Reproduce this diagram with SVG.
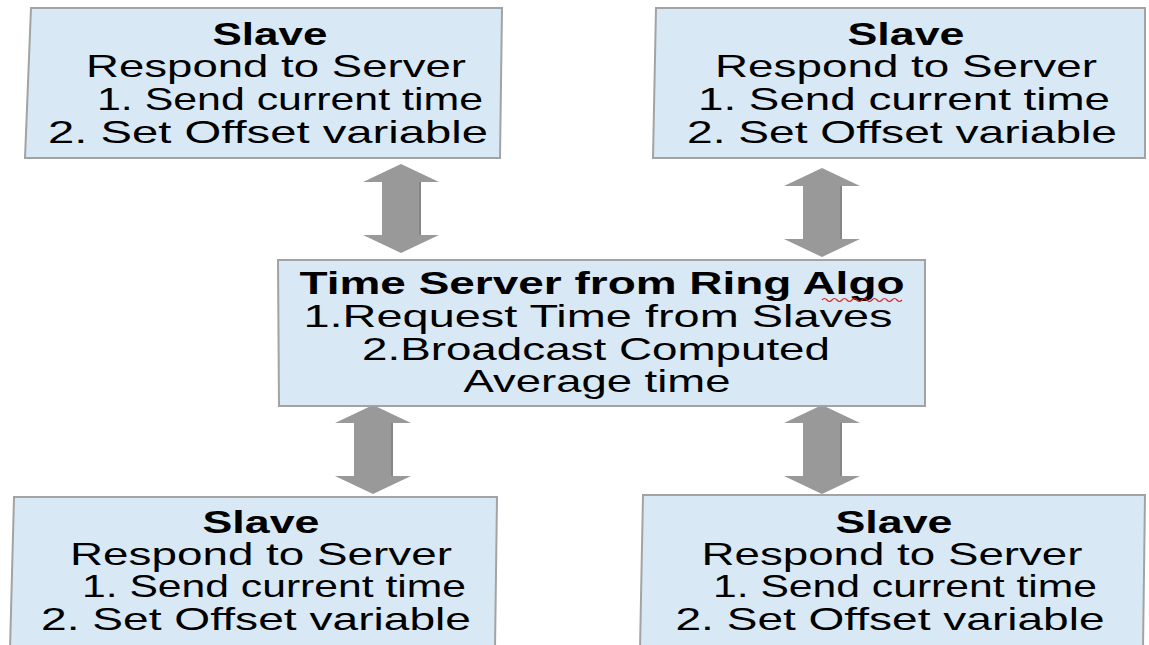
<svg xmlns="http://www.w3.org/2000/svg" width="1149" height="645" viewBox="0 0 1149 645">
<style>
.box{fill:#d8e9f5;stroke:#a3a3a3;stroke-width:2}
.t{font-family:"Liberation Sans",Arial,sans-serif;font-size:32px;fill:#000;text-anchor:middle}
.b{font-weight:bold}
.arr{fill:#999999}
.edge{fill:none;stroke:#858585;stroke-width:2}
</style>
<defs>
<polygon id="dbl" points="0,0 38,18 19,18 19,71 38,71 0,89 -38,71 -19,71 -19,18 -38,18"/>
</defs>
<rect width="1149" height="645" fill="#ffffff"/>
<g id="connectors">
<g transform="translate(401,164)"><use href="#dbl" class="arr"/><line class="edge" x1="19" y1="18" x2="19" y2="71"/></g>
<g transform="translate(822,168)"><use href="#dbl" class="arr"/><line class="edge" x1="19" y1="18" x2="19" y2="71"/></g>
<g transform="translate(373,405)"><use href="#dbl" class="arr"/><line class="edge" x1="19" y1="18" x2="19" y2="71"/></g>
<g transform="translate(822,405)"><use href="#dbl" class="arr"/><line class="edge" x1="19" y1="18" x2="19" y2="71"/></g>
</g>
<g id="slave-top-left">
<polygon class="box" points="31,8 502,8 500,158 25,158"/>
<text class="t b" x="270" y="45" textLength="115" lengthAdjust="spacingAndGlyphs">Slave</text>
<text class="t" x="276" y="77" textLength="380" lengthAdjust="spacingAndGlyphs">Respond to Server</text>
<text class="t" x="290" y="110" textLength="386" lengthAdjust="spacingAndGlyphs">1. Send current time</text>
<text class="t" x="268" y="143" textLength="440" lengthAdjust="spacingAndGlyphs">2. Set Offset variable</text>
</g>
<g id="slave-top-right">
<polygon class="box" points="656,8 1145,8 1145,158 653,158"/>
<text class="t b" x="906" y="45" textLength="117" lengthAdjust="spacingAndGlyphs">Slave</text>
<text class="t" x="906" y="77" textLength="382" lengthAdjust="spacingAndGlyphs">Respond to Server</text>
<text class="t" x="904" y="110" textLength="412" lengthAdjust="spacingAndGlyphs">1. Send current time</text>
<text class="t" x="902" y="143" textLength="430" lengthAdjust="spacingAndGlyphs">2. Set Offset variable</text>
</g>
<g id="time-server">
<polygon class="box" points="278,260 925,260 925,406 279,406"/>
<text class="t b" x="602" y="294" textLength="605" lengthAdjust="spacingAndGlyphs">Time Server from Ring Algo</text>
<path d="M822,300 q2.5,-3 5,0 t5,0 t5,0 t5,0 t5,0 t5,0 t5,0 t5,0 t5,0 t5,0 t5,0 t5,0 t5,0 t5,0 t5,0 t5,0" fill="none" stroke="#e02020" stroke-width="1.2"/>
<text class="t" x="598" y="327" textLength="589" lengthAdjust="spacingAndGlyphs">1.Request Time from Slaves</text>
<text class="t" x="596" y="360" textLength="468" lengthAdjust="spacingAndGlyphs">2.Broadcast Computed</text>
<text class="t" x="597" y="392" textLength="267" lengthAdjust="spacingAndGlyphs">Average time</text>
</g>
<g id="slave-bottom-left">
<polygon class="box" points="14,497 497,497 495,650 10,650"/>
<text class="t b" x="261" y="533" textLength="117" lengthAdjust="spacingAndGlyphs">Slave</text>
<text class="t" x="261" y="565" textLength="382" lengthAdjust="spacingAndGlyphs">Respond to Server</text>
<text class="t" x="274" y="597" textLength="384" lengthAdjust="spacingAndGlyphs">1. Send current time</text>
<text class="t" x="256" y="630" textLength="430" lengthAdjust="spacingAndGlyphs">2. Set Offset variable</text>
</g>
<g id="slave-bottom-right">
<polygon class="box" points="643,495 1145,495 1143,650 640,650"/>
<text class="t b" x="894" y="533" textLength="117" lengthAdjust="spacingAndGlyphs">Slave</text>
<text class="t" x="892" y="565" textLength="381" lengthAdjust="spacingAndGlyphs">Respond to Server</text>
<text class="t" x="905" y="597" textLength="384" lengthAdjust="spacingAndGlyphs">1. Send current time</text>
<text class="t" x="890" y="630" textLength="429" lengthAdjust="spacingAndGlyphs">2. Set Offset variable</text>
</g>
</svg>
